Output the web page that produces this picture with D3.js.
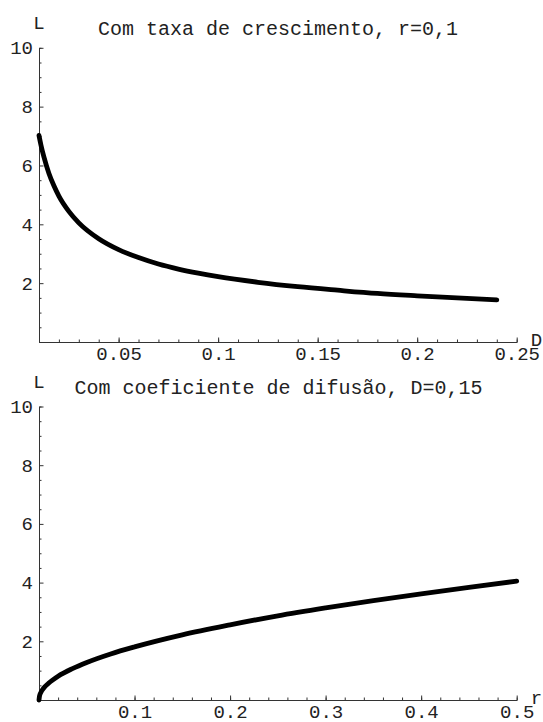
<!DOCTYPE html>
<html>
<head>
<meta charset="utf-8">
<script src="https://cdn.jsdelivr.net/npm/d3@7"></script>
<style>
  body { margin: 0; background: #fff; }
  text { font-family: "Liberation Mono", "Courier New", monospace; fill: #222; }
</style>
</head>
<body>
<svg id="chart" width="543" height="722"></svg>
<script>
// top plot: L against D (r = 0,1)
var topD = [0.01, 0.011, 0.0125, 0.015, 0.0175, 0.02, 0.025, 0.03, 0.04, 0.05, 0.06, 0.07, 0.08, 0.09, 0.10, 0.12, 0.14, 0.16, 0.18, 0.20, 0.22, 0.24];
var topL = [7.02, 6.69, 6.28, 5.73, 5.31, 4.96, 4.44, 4.05, 3.51, 3.14, 2.87, 2.65, 2.48, 2.34, 2.22, 2.03, 1.88, 1.76, 1.65, 1.57, 1.50, 1.43];
var topXTicks = [0.05, 0.1, 0.15, 0.2, 0.25];
var topXLabels = ["0.05", "0.1", "0.15", "0.2", "0.25"];

// bottom plot: L against r (D = 0,15)
var botR = [0, 0.0005, 0.002, 0.005, 0.01, 0.02, 0.035, 0.05, 0.075, 0.1, 0.15, 0.2, 0.25, 0.3, 0.35, 0.4, 0.45, 0.5];
var botL = [0, 0.13, 0.26, 0.41, 0.57, 0.81, 1.07, 1.28, 1.57, 1.81, 2.22, 2.56, 2.87, 3.14, 3.39, 3.62, 3.84, 4.05];
var botXTicks = [0.1, 0.2, 0.3, 0.4, 0.5];
var botXLabels = ["0.1", "0.2", "0.3", "0.4", "0.5"];

var yTicks = [2, 4, 6, 8, 10];
var yLabels = ["2", "4", "6", "8", "10"];

var svg = d3.select("#chart");

function drawPlot(opt)
{
    var g = svg.append("g");
    var x = d3.scaleLinear().domain(opt.xDomain).range([opt.left, opt.right]);
    var y = d3.scaleLinear().domain([0, 10]).range([opt.bottom, opt.top]);

    // minor ticks first, majors on top
    g.append("g")
        .attr("transform", "translate(0," + opt.bottom + ")")
        .call(d3.axisBottom(x).tickValues(opt.xMinor).tickSize(-2.5).tickFormat(""));
    g.append("g")
        .attr("transform", "translate(" + opt.left + ",0)")
        .call(d3.axisLeft(y).tickValues(opt.yMinor).tickSize(-2.5).tickFormat(""));

    g.append("g")
        .attr("class", "xaxis")
        .attr("transform", "translate(0," + opt.bottom + ")")
        .call(d3.axisBottom(x).tickValues(opt.xTicks).tickSizeInner(-4.5).tickSizeOuter(0).tickPadding(7)
            .tickFormat(function(d, i) { return opt.xLabels[i]; }));
    g.append("g")
        .attr("class", "yaxis")
        .attr("transform", "translate(" + opt.left + ",0)")
        .call(d3.axisLeft(y).tickValues(yTicks).tickSizeInner(-4.5).tickSizeOuter(0).tickPadding(6)
            .tickFormat(function(d, i) { return yLabels[i]; }));

    g.selectAll(".domain, .tick line").attr("stroke", "#333").attr("stroke-width", 1);
    g.selectAll(".tick text").style("font-size", "19px").attr("fill", "#222");
    g.selectAll(".xaxis .tick text").attr("dy", "0.6em");

    g.append("path")
        .datum(d3.zip(opt.xs, opt.ys))
        .attr("fill", "none")
        .attr("stroke", "#000")
        .attr("stroke-width", 4.8)
        .attr("stroke-linecap", "round")
        .attr("d", d3.line()
            .x(function(d) { return x(d[0]); })
            .y(function(d) { return y(d[1]); })
            .curve(d3.curveMonotoneX));

    g.append("text")
        .attr("x", opt.left).attr("y", opt.top - 19)
        .attr("text-anchor", "middle")
        .style("font-size", "19px")
        .text("L");
    g.append("text")
        .attr("x", opt.right + 14).attr("y", opt.bottom + 4)
        .style("font-size", "19px")
        .text(opt.xName);
    g.append("text")
        .attr("x", opt.titleX).attr("y", opt.top - 13)
        .style("font-size", "20px")
        .text(opt.title);
}

var halfSteps = d3.range(0.5, 10, 0.5).filter(function(v) { return v % 2 !== 0; });

drawPlot({
    xDomain: [0.01, 0.25], left: 39, right: 516.7, top: 47.8, bottom: 342,
    xs: topD, ys: topL,
    xTicks: topXTicks, xLabels: topXLabels,
    xMinor: d3.range(2, 25).map(function(i) { return i / 100; }),
    yMinor: halfSteps,
    xName: "D", title: "Com taxa de crescimento, r=0,1", titleX: 98
});

drawPlot({
    xDomain: [0, 0.5], left: 39, right: 516.7, top: 406.5, bottom: 700,
    xs: botR, ys: botL,
    xTicks: botXTicks, xLabels: botXLabels,
    xMinor: d3.range(1, 25).map(function(i) { return i / 50; }),
    yMinor: halfSteps,
    xName: "r", title: "Com coeficiente de difusão, D=0,15", titleX: 74.4
});
</script>
</body>
</html>
